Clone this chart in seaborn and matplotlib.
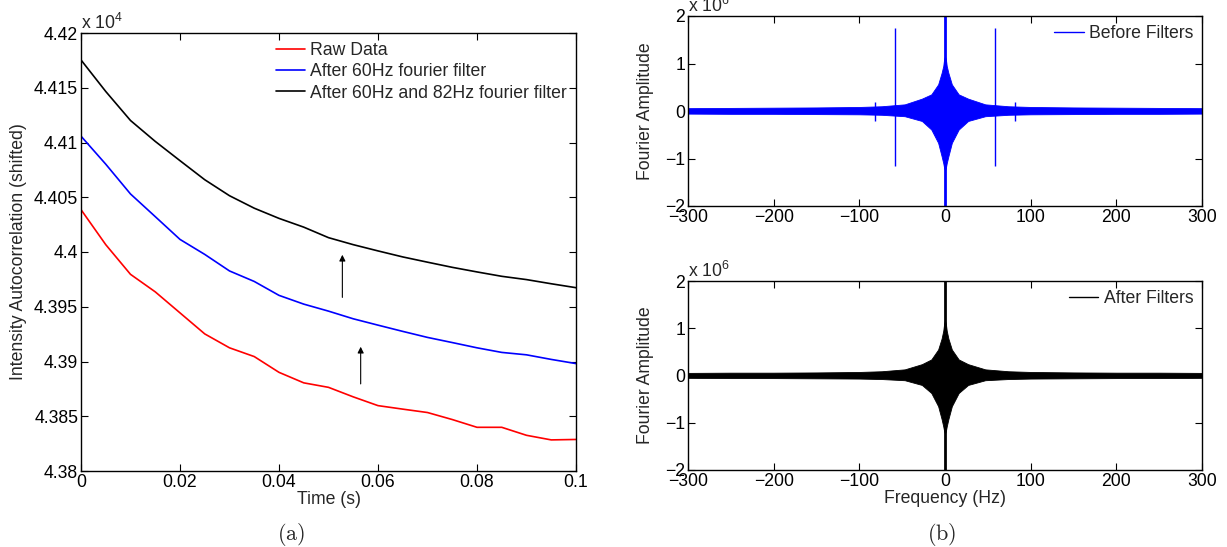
import numpy as np
import pandas as pd
import matplotlib
matplotlib.use('Agg')
import matplotlib.pyplot as plt
import seaborn as sns
from matplotlib.ticker import FuncFormatter
from matplotlib.lines import Line2D

# ---- left panel: autocorrelation curves ----
time_s = [0, .005, .01, .015, .02, .025, .03, .035, .04, .045, .05,
          .055, .06, .065, .07, .075, .08, .085, .09, .095, .1]
raw_data = [44038.7, 44006.7, 43979.6, 43963.6, 43944.4, 43925.2, 43912.5,
            43904.5, 43890.1, 43880.5, 43876.4, 43867.7, 43859.7, 43856.5,
            43853.4, 43847.0, 43839.9, 43839.9, 43832.6, 43828.4, 43828.8]
after_60 = [44105.8, 44080.2, 44053.0, 44032.3, 44011.5, 43997.8, 43982.7,
            43973.1, 43960.4, 43952.4, 43946.0, 43939.0, 43933.2, 43927.5,
            43922.0, 43917.3, 43912.5, 43908.3, 43906.1, 43901.9, 43898.1]
after_60_82 = [44175.4, 44146.6, 44120.1, 44101.0, 44083.4, 44066.0, 44051.4,
               44040.0, 44030.7, 44022.7, 44013.1, 44006.7, 44001.0, 43995.5,
               43990.7, 43986.0, 43981.8, 43977.8, 43974.8, 43971.0, 43967.4]
series_names = ['Raw Data', 'After 60Hz fourier filter',
                'After 60Hz and 82Hz fourier filter']
series_colors = ['#ff0000', '#0000ff', '#000000']

# ---- right panels: spectrum envelope (x 1e6), half spectrum, mirrored ----
half_freq = [0, 1, 2, 4, 8, 16, 27, 47, 74, 100, 150, 200, 250, 300]
before_upper = [1.15, 1.10, 0.95, 0.80, 0.56, 0.35, 0.26, 0.14, 0.10, 0.085,
                0.075, 0.07, 0.065, 0.06]
before_lower = [-1.25, -1.20, -1.10, -0.95, -0.67, -0.39, -0.21, -0.11, -0.08,
                -0.07, -0.065, -0.06, -0.06, -0.055]
after_upper = [1.17, 1.10, 0.95, 0.78, 0.55, 0.34, 0.24, 0.13, 0.09, 0.075,
               0.065, 0.06, 0.06, 0.055]
after_lower = [-1.23, -1.18, -1.08, -0.92, -0.65, -0.37, -0.20, -0.10, -0.075,
               -0.065, -0.06, -0.055, -0.055, -0.05]
spike_freqs = [-58.7, 58.7]
spike_top, spike_bottom = 1.74, -1.16
bump_freqs = [-82, 82]
bump_top, bump_bottom = 0.19, -0.20

sns.set_theme(style='ticks')
plt.rcParams['font.family'] = ['Liberation Sans', 'DejaVu Sans']
plt.rcParams['mathtext.fontset'] = 'custom'
plt.rcParams['mathtext.rm'] = 'Liberation Sans'
plt.rcParams['axes.edgecolor'] = 'black'
plt.rcParams['axes.linewidth'] = 1.0
plt.rcParams['xtick.direction'] = 'in'
plt.rcParams['ytick.direction'] = 'in'
plt.rcParams['xtick.top'] = True
plt.rcParams['ytick.right'] = True
plt.rcParams['xtick.color'] = 'black'
plt.rcParams['ytick.color'] = 'black'

FS = 12.7
W, H = 1227, 547
fig = plt.figure(figsize=(W / 100, H / 100), dpi=100)


def px_axes(left, top, right, bottom):
    return fig.add_axes([left / W, 1 - bottom / H, (right - left) / W, (bottom - top) / H])


# ---------------- left panel ----------------
ax = px_axes(81, 33, 576, 471)
df = pd.DataFrame({
    'time': time_s * 3,
    'value': raw_data + after_60 + after_60_82,
    'series': [s for s in series_names for _ in time_s],
})
sns.lineplot(data=df, x='time', y='value', hue='series', hue_order=series_names,
             palette=series_colors, linewidth=1.2, ax=ax)
ax.set_xlim(0, 0.1)
ax.set_ylim(43800, 44200)
ax.set_xticks(np.arange(0, 0.1001, 0.02))
ax.set_yticks(np.arange(43800, 44200.1, 50))
ax.xaxis.set_major_formatter(FuncFormatter(lambda v, p: f'{v:g}'))
ax.yaxis.set_major_formatter(FuncFormatter(lambda v, p: f'{v / 1e4:g}'))
ax.tick_params(labelsize=FS, length=5, width=0.8, pad=2)
ax.set_xlabel('Time (s)', fontsize=FS, labelpad=0)
ax.set_ylabel('Intensity Autocorrelation (shifted)', fontsize=FS, labelpad=5)
ax.text(0.0, 1.0, r'x 10$^4$', transform=ax.transAxes, fontsize=FS,
        ha='left', va='bottom')
leg = ax.legend(loc='upper right', frameon=False, fontsize=FS, handlelength=1.65,
                handletextpad=0.3, labelspacing=0.25, borderaxespad=0.1)
for h in leg.get_lines():
    h.set_linewidth(1.2)

# arrows
ax.annotate('', xy=(0.0528, 44000), xytext=(0.0528, 43956),
            arrowprops=dict(arrowstyle='-|>', color='black', lw=0.8, mutation_scale=9))
ax.annotate('', xy=(0.0565, 43916), xytext=(0.0565, 43877),
            arrowprops=dict(arrowstyle='-|>', color='black', lw=0.8, mutation_scale=9))
fig.text(291 / W, 1 - 534 / H, r'$\mathrm{(a)}$', fontsize=16,
         ha='center', va='center', math_fontfamily='cm')


# ---------------- right panels ----------------
def mirror(half, vals):
    f = np.concatenate([-np.array(half[::-1]), np.array(half[1:])])
    v = np.concatenate([np.array(vals[::-1]), np.array(vals[1:])]) * 1e6
    return f, v


def spectrum_axes(ax, upper, lower, color, label, with_spikes):
    f, up = mirror(half_freq, upper)
    _, lo = mirror(half_freq, lower)
    ax.fill_between(f, lo, up, color=color, linewidth=0.6, edgecolor=color)
    sns.lineplot(x=[0, 0], y=[-2e6, 2e6], color=color, linewidth=2.0, ax=ax,
                 estimator=None, sort=False)
    if with_spikes:
        ax.vlines(spike_freqs, spike_bottom * 1e6, spike_top * 1e6, color=color, lw=1.0)
        ax.vlines(bump_freqs, bump_bottom * 1e6, bump_top * 1e6, color=color, lw=1.0)
    ax.set_xlim(-300, 300)
    ax.set_ylim(-2e6, 2e6)
    ax.set_xticks(np.arange(-300, 301, 100))
    ax.set_yticks(np.arange(-2e6, 2.01e6, 1e6))
    ax.yaxis.set_major_formatter(FuncFormatter(lambda v, p: f'{v / 1e6:g}'.replace('-', '\u2212')))
    ax.xaxis.set_major_formatter(FuncFormatter(lambda v, p: f'{v:g}'.replace('-', '\u2212')))
    ax.tick_params(labelsize=FS, length=5, width=0.8, pad=2)
    ax.set_ylabel('Fourier Amplitude', fontsize=FS, labelpad=8)
    ax.text(0.0, 1.0, r'x 10$^6$', transform=ax.transAxes, fontsize=FS,
            ha='left', va='bottom')
    ax.legend(handles=[Line2D([], [], color=color, lw=1.0)], labels=[label],
              loc='upper right', frameon=False, fontsize=FS, handlelength=1.65,
              handletextpad=0.3, borderaxespad=0.1)


ax_top = px_axes(688, 16, 1202, 206)
spectrum_axes(ax_top, before_upper, before_lower, '#0000ff', 'Before Filters', True)

ax_bot = px_axes(688, 281, 1202, 470)
spectrum_axes(ax_bot, after_upper, after_lower, '#000000', 'After Filters', False)
ax_bot.set_xlabel('Frequency (Hz)', fontsize=FS, labelpad=0)
fig.text(942 / W, 1 - 534 / H, r'$\mathrm{(b)}$', fontsize=16,
         ha='center', va='center', math_fontfamily='cm')

fig.savefig('out.png', dpi=100, facecolor='white')
